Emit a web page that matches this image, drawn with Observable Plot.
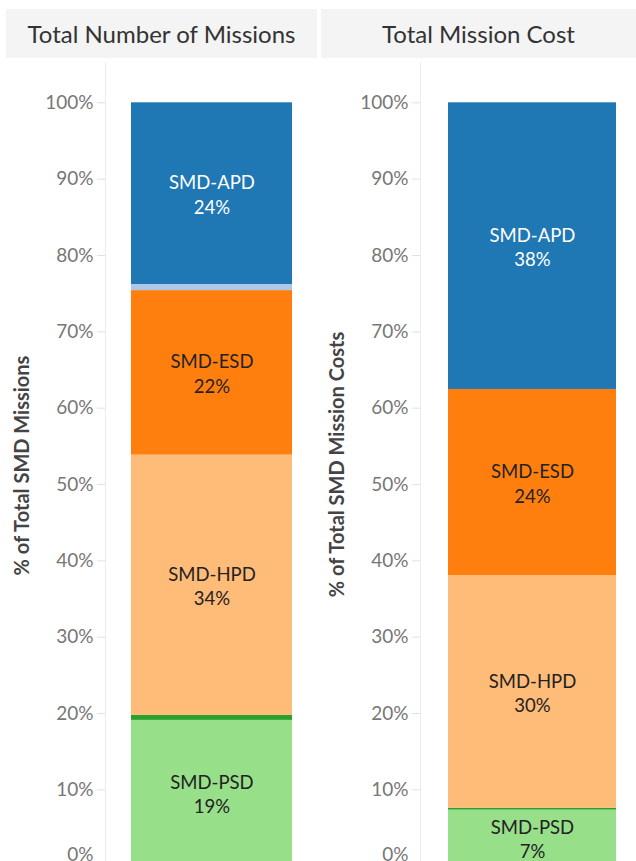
<!DOCTYPE html>
<html>
<head>
<meta charset="utf-8">
<script src="https://cdn.jsdelivr.net/npm/d3@7"></script>
<script src="https://cdn.jsdelivr.net/npm/@observablehq/plot@0.6"></script>
<style>
  html, body { margin: 0; padding: 0; background: #fff; overflow: hidden; }
  #root { position: relative; width: 636px; height: 861px; font-family: Lato, "Noto Sans", sans-serif; }
  .hdr { position: absolute; top: 9px; height: 49px; background: #f4f4f4; color: #333;
         font-size: 24px; display: flex; align-items: center; justify-content: center; }
  .panel { position: absolute; top: 0; }
</style>
</head>
<body>
<div id="root">
  <div class="hdr" style="left:6px; width:311px;">Total Number of Missions</div>
  <div class="hdr" style="left:321px; width:315px;">Total Mission Cost</div>
  <div class="panel" id="p1" style="left:0px;"></div>
  <div class="panel" id="p2" style="left:318px;"></div>
</div>
<script>
// Stack order, bottom to top
const categories = ["SMD-PSD", "SMD-HPD/PSD", "SMD-HPD", "SMD-ESD", "SMD-APD/ESD", "SMD-APD"];
const colors = ["#98df8a", "#2ca02c", "#ffbb78", "#ff7f0e", "#aec7e8", "#1f77b4"];
const labelColors = ["#222", "#222", "#222", "#222", "#222", "#fff"];
const missionShare = [19.1, 0.65, 34.1, 21.55, 0.8, 23.8];
const costShare = [7.35, 0.25, 30.45, 24.4, 0, 37.55];
const yTicks = [0, 10, 20, 30, 40, 50, 60, 70, 80, 90, 100];
const labeled = ["SMD-PSD", "SMD-HPD", "SMD-ESD", "SMD-APD"];

function panel(values, key, yTitle, opts) {
  const data = categories.map((c, i) => ({category: c, value: values[i], key, labelColor: labelColors[i]}));
  const fmt = d => d + "%";
  return Plot.plot({
    width: 318,
    height: 900,
    marginTop: 102.3,
    marginBottom: 34.3,
    marginLeft: opts.marginLeft,
    marginRight: 0,
    style: {fontFamily: "Lato, 'Noto Sans', sans-serif", fontSize: "18px", overflow: "visible"},
    x: {axis: null, padding: 0, domain: [key]},
    y: {domain: [0, 100], label: null},
    color: {domain: categories, range: colors},
    marks: [
      Plot.frame({anchor: "left", stroke: "#ececec", insetTop: -40}),
      Plot.axisY({ticks: yTicks.slice(1), tickFormat: fmt, tickSize: 8, tickPadding: 4,
                  stroke: "#e2e2e2", fill: "#777", fontSize: 19, label: null}),
      // bottom label nudged inside the view, as the original tool does at the edge
      Plot.axisY({ticks: yTicks.slice(0, 1), tickFormat: fmt, tickSize: 0, tickPadding: 12,
                  dy: -11, fill: "#777", fontSize: 19, label: null}),
      Plot.barY(data, {x: "key", y: "value", fill: "category",
                       insetLeft: opts.insetLeft, insetRight: opts.insetRight}),
      Plot.text(data, Plot.stackY({x: "key", y: "value",
        text: d => labeled.includes(d.category) ? `${d.category}\n${Math.round(d.value)}%` : "",
        fill: "labelColor", fontSize: 18.5, lineHeight: 1.33,
        dx: (opts.insetLeft - opts.insetRight) / 2})),
      Plot.text([yTitle], {frameAnchor: "left", text: d => d, rotate: -90, textAnchor: "middle",
        dx: opts.titleDx, dy: opts.titleDy, fontWeight: "bold", fontSize: 20, fill: "#444"})
    ]
  });
}

document.getElementById("p1").append(panel(missionShare, "Missions", "% of Total SMD Missions",
  {marginLeft: 105, insetLeft: 26, insetRight: 26, titleDx: -83, titleDy: -19}));
document.getElementById("p2").append(panel(costShare, "Cost", "% of Total SMD Mission Costs",
  {marginLeft: 102, insetLeft: 28, insetRight: 20, titleDx: -83, titleDy: -20}));
</script>
</body>
</html>
